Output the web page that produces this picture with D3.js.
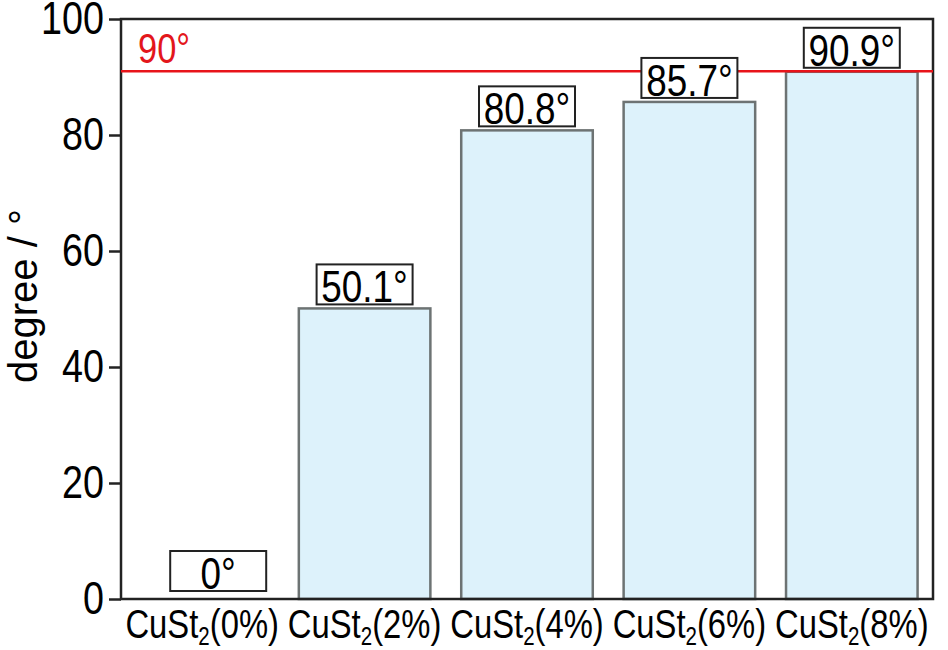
<!DOCTYPE html>
<html><head><meta charset="utf-8">
<script src="https://cdn.jsdelivr.net/npm/d3@7"></script>
<style>
body{margin:0;background:#fff;}
svg{display:block;}
text{font-family:"Liberation Sans",Arial,sans-serif;}
</style></head>
<body><svg id="chart" width="948" height="650"></svg>
<script>
const categories = ["0%", "2%", "4%", "6%", "8%"];
const values = [0, 50.1, 80.8, 85.7, 90.9];
const valueLabels = ["0°", "50.1°", "80.8°", "85.7°", "90.9°"];
const yTicks = [0, 20, 40, 60, 80, 100];
const refValue = 91;
const refLabel = "90°";
const yTitle = "degree / °";

const W = 948, H = 650;
const SX = 0.82; // horizontal condensing (Arial Narrow look)
const margin = {top: 19, right: 15, bottom: 51, left: 121};
const svg = d3.select("#chart");

// turn x/y-positioned texts into condensed texts at the same anchor
function narrow(sel) {
  sel.each(function () {
    const t = d3.select(this);
    const tx = +t.attr("x") || 0, ty = +t.attr("y") || 0;
    t.attr("x", 0).attr("y", 0)
     .attr("transform", `translate(${tx},${ty}) scale(${SX},1)`);
  });
}

const x = d3.scaleBand().domain(categories).range([margin.left, W - margin.right])
  .paddingInner(0.19).paddingOuter(0.095);
const y = d3.scaleLinear().domain([0, 100]).range([H - margin.bottom, margin.top]);

// bars
svg.append("g").selectAll("rect").data(values).join("rect")
  .attr("x", (d, i) => x(categories[i]))
  .attr("y", d => y(d))
  .attr("width", x.bandwidth())
  .attr("height", d => y(0) - y(d))
  .attr("fill", "#ddf2fb")
  .attr("stroke", "#6d7373")
  .attr("stroke-width", 2.5);

// frame
svg.append("rect")
  .attr("x", margin.left).attr("y", margin.top)
  .attr("width", W - margin.left - margin.right)
  .attr("height", H - margin.top - margin.bottom)
  .attr("fill", "none").attr("stroke", "#222").attr("stroke-width", 2.5);

// reference line
svg.append("line")
  .attr("x1", margin.left).attr("x2", W - margin.right)
  .attr("y1", y(refValue)).attr("y2", y(refValue))
  .attr("stroke", "#e8141a").attr("stroke-width", 2.5);
svg.append("text")
  .attr("x", margin.left + 17).attr("y", y(refValue) - 8)
  .attr("font-size", 42).attr("fill", "#e3161b")
  .text(refLabel)
  .call(narrow);

// value label boxes
const bw = 96, bh = 40;
const lab = svg.append("g").selectAll("g").data(values).join("g")
  .attr("transform", (d, i) => {
    const cx = x(categories[i]) + x.bandwidth() / 2 + (d === 0 ? 16 : 0);
    const bottom = y(d) - (d === 0 ? 8 : 4);
    return `translate(${cx},${bottom})`;
  });
lab.append("rect")
  .attr("x", -bw / 2).attr("y", -bh).attr("width", bw).attr("height", bh)
  .attr("fill", "#fff").attr("stroke", "#222").attr("stroke-width", 2);
lab.append("text")
  .attr("text-anchor", "middle").attr("y", -2)
  .attr("font-size", 45).attr("fill", "#000")
  .text((d, i) => valueLabels[i])
  .call(narrow);

// y axis
const yAxis = svg.append("g")
  .attr("transform", `translate(${margin.left},0)`)
  .call(d3.axisLeft(y).tickValues(yTicks).tickSize(12).tickPadding(5).tickFormat(d3.format("d")));
yAxis.select(".domain").remove();
yAxis.selectAll(".tick line").attr("stroke", "#222").attr("stroke-width", 2.5);
yAxis.selectAll(".tick text").attr("font-size", 46).attr("fill", "#000")
  .attr("font-family", '"Liberation Sans",Arial,sans-serif')
  .each(function () {
    const t = d3.select(this);
    const tx = +t.attr("x");
    t.attr("x", tx / SX).attr("transform", `scale(${SX},1)`);
  });

// y title
svg.append("text")
  .attr("transform", "translate(37,296) rotate(-90)")
  .attr("text-anchor", "middle").attr("font-size", 40).attr("fill", "#000")
  .text(yTitle);

// x labels
const xl = svg.append("g").selectAll("text").data(categories).join("text")
  .attr("x", d => x(d) + x.bandwidth() / 2)
  .attr("y", 638)
  .attr("text-anchor", "middle").attr("font-size", 40).attr("fill", "#000");
xl.append("tspan").text("CuSt");
xl.append("tspan").attr("font-size", 25).attr("dy", 7).text("2");
xl.append("tspan").attr("dy", -7).text(d => `(${d})`);
xl.call(narrow);
</script></body></html>
